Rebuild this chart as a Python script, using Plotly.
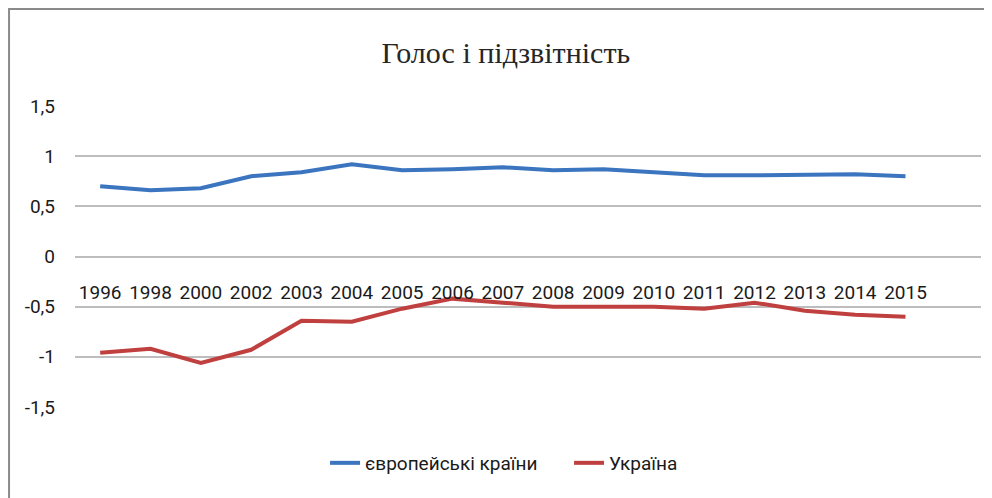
import plotly.graph_objects as go

years = ["1996", "1998", "2000", "2002", "2003", "2004", "2005", "2006", "2007",
         "2008", "2009", "2010", "2011", "2012", "2013", "2014", "2015"]
europe = [0.70, 0.66, 0.68, 0.80, 0.84, 0.92, 0.86, 0.87, 0.89, 0.86, 0.87,
          0.84, 0.81, 0.81, 0.81, 0.82, 0.80]
ukraine = [-0.96, -0.92, -1.06, -0.93, -0.64, -0.65, -0.52, -0.42, -0.46, -0.50,
           -0.50, -0.50, -0.52, -0.46, -0.54, -0.58, -0.60]
y_ticks = [-1.5, -1, -0.5, 0, 0.5, 1, 1.5]
y_labels = ["-1,5", "-1", "-0,5", "0", "0,5", "1", "1,5"]

FONT = "Roboto, sans-serif"

fig = go.Figure()
fig.add_trace(go.Scatter(x=years, y=europe, mode="lines", name="європейські країни",
                         line=dict(color="#3b74bf", width=4)))
fig.add_trace(go.Scatter(x=years, y=ukraine, mode="lines", name="Україна",
                         line=dict(color="#c0403f", width=4)))

fig.update_layout(
    width=984, height=490,
    margin=dict(l=67, r=11, t=98, b=91),
    paper_bgcolor="white", plot_bgcolor="white",
    title=dict(text="Голос і підзвітність", x=0.506, xanchor="center", y=0.91, yanchor="middle",
               font=dict(family="Liberation Serif, Times New Roman, serif", size=30, color="#262626")),
    xaxis=dict(type="category", categoryorder="array", categoryarray=years,
               range=[-0.5, 17.5], anchor="free", position=0.5,
               showgrid=False, showline=False, zeroline=False, ticks="",
               ticklabelstandoff=22,
               tickfont=dict(family=FONT, size=19, color="#1a1a1a")),
    yaxis=dict(range=[-1.5, 1.5], tickvals=y_ticks, ticktext=y_labels, showgrid=True,
               gridcolor="#bdbdbd", gridwidth=1.6, zeroline=False, showline=False,
               ticks="", ticklabelstandoff=19,
               tickfont=dict(family=FONT, size=19, color="#1a1a1a")),
    legend=dict(orientation="h", x=0.276, xanchor="left", y=-0.186, yanchor="middle",
                entrywidthmode="pixels", entrywidth=199,
                font=dict(family=FONT, size=19, color="#1a1a1a")),
    showlegend=True,
)

fig.add_shape(type="line", xref="paper", yref="paper", x0=-0.0728, x1=-0.0728, y0=-0.35, y1=1.326,
              line=dict(color="#8a8a8a", width=2))
fig.add_shape(type="line", xref="paper", yref="paper", x0=-0.0728, x1=1.02, y0=1.322, y1=1.322,
              line=dict(color="#8a8a8a", width=2))

fig.write_html("out.html")
